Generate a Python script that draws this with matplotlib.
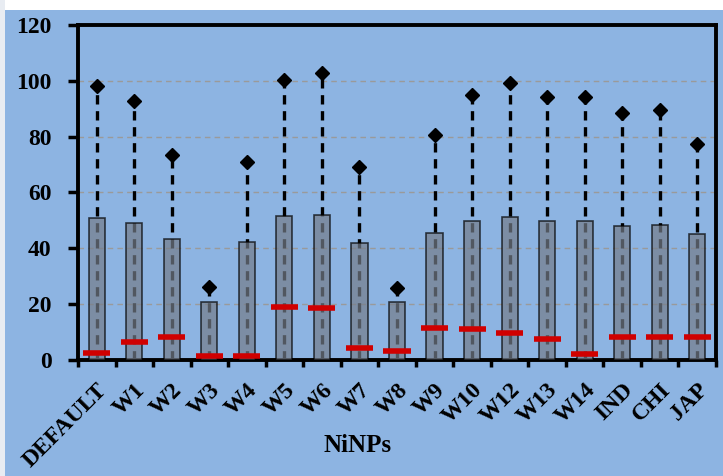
import matplotlib
matplotlib.use("Agg")
import matplotlib.pyplot as plt
from matplotlib.patches import Rectangle
import numpy as np

categorias = ["DEFAULT", "W1", "W2", "W3", "W4", "W5", "W6", "W7", "W8",
              "W9", "W10", "W12", "W13", "W14", "IND", "CHI", "JAP"]
promedio = [50.7, 49.2, 43.4, 20.9, 42.4, 51.6, 52.0, 41.8, 20.7,
            45.6, 49.9, 51.4, 49.9, 49.9, 48.1, 48.4, 45.0]
maximo = [98.2, 92.6, 73.5, 26.3, 71.0, 100.4, 102.8, 69.3, 25.9,
          80.6, 94.8, 99.4, 94.1, 94.1, 88.6, 89.6, 77.4]
minimo = [2.4, 6.3, 8.4, 1.6, 1.6, 19.0, 18.6, 4.2, 3.2,
          11.6, 11.1, 9.5, 7.5, 2.3, 8.4, 8.4, 8.4]

fondo = "#8DB4E2"
fuente = "Liberation Serif"

fig = plt.figure(figsize=(7.23, 4.76), dpi=100, facecolor=fondo)
fig.patches.append(Rectangle((0, 1 - 10 / 476), 1, 10 / 476, transform=fig.transFigure,
                             facecolor="white", edgecolor="none", zorder=0))
fig.patches.append(Rectangle((0, 0), 5 / 723, 1, transform=fig.transFigure,
                             facecolor="#E8ECF2", edgecolor="none", zorder=0))
ax = fig.add_axes([78 / 723, 1 - 360 / 476, (716 - 78) / 723, (360 - 25) / 476])
ax.set_facecolor(fondo)

x = np.arange(len(categorias))

# lineas punteadas hasta el maximo + rombo
ax.vlines(x, 0, maximo, colors="black", linewidth=2.4,
          linestyles=(0, (2.8, 2.0)), zorder=2)
ax.plot(x, maximo, linestyle="none", marker="D", markersize=7.5,
        color="black", zorder=4)

# barras del promedio
ax.bar(x, promedio, width=0.43, color="#757D8A", alpha=0.7,
       edgecolor="black", linewidth=1.2, zorder=3)

# minimo en rojo
ax.hlines(minimo, x - 0.36, x + 0.36, colors="#D00000", linewidth=4, zorder=5)

ax.set_xlim(-0.5, len(categorias) - 0.5)
ax.set_ylim(0, 120)
ax.set_yticks(range(0, 121, 20))
ax.yaxis.grid(True, linestyle=(0, (4, 3)), color="#9A9A9A", linewidth=1, zorder=0)
ax.set_axisbelow(True)

ax.set_xticks(np.arange(len(categorias) + 1) - 0.5)
ax.set_xticklabels([])
ax.set_xticks(x, minor=True)
ax.set_xticklabels(categorias, minor=True, rotation=45, ha="right",
                   rotation_mode="anchor", fontfamily=fuente,
                   fontweight="bold", fontsize=17)
ax.tick_params(axis="x", which="minor", length=0, pad=14)
ax.tick_params(axis="x", which="major", length=5, width=2.5, direction="out")
ax.tick_params(axis="y", length=7, width=2.5, direction="out", pad=12)
for t in ax.get_yticklabels():
    t.set_fontfamily(fuente)
    t.set_fontweight("bold")
    t.set_fontsize(17)

for s in ax.spines.values():
    s.set_linewidth(2.8)
    s.set_color("black")

ax.set_xlabel("NiNPs", fontfamily=fuente, fontweight="bold", fontsize=18)
ax.xaxis.set_label_coords(0.438, -0.254)
ax.xaxis.label.set_va("center")

plt.savefig("out.png", dpi=100, facecolor=fondo)
